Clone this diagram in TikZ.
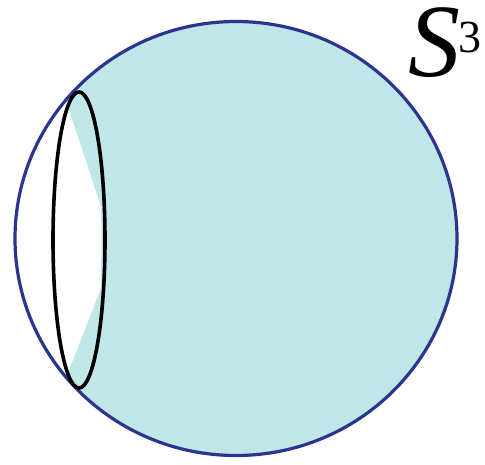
\documentclass[tikz,border=0pt]{standalone}
\usepackage{fontspec}
\setmainfont{Liberation Serif}
\definecolor{fillc}{HTML}{C0E6E8}
\definecolor{rimc}{HTML}{2B3590}
\begin{document}
\begin{tikzpicture}[x=1pt,y=-1pt,
  rim/.style={draw=rimc,line width=3.2pt},
  loopline/.style={draw=black,line width=3.6pt}]
\useasboundingbox (0,0) rectangle (485,464);
\coordinate (c) at (236,238.5);
\coordinate (e) at (79,240);
\fill[fillc] (c) ellipse [x radius=221, y radius=217];
\begin{scope}
  \clip (c) ellipse [x radius=221, y radius=217];
  \fill[white] (79,92) arc [start angle=270, end angle=90, x radius=26, y radius=148]
    -- (79,464) -- (0,464) -- (0,0) -- (79,0) -- cycle;
\end{scope}
\begin{scope}
  \clip (e) ellipse [x radius=26, y radius=148];
  \fill[white] (63,92) -- (101,207) -- (101,288) -- (62,388) -- (30,388) -- (30,92) -- cycle;
\end{scope}
\path[rim] (c) ellipse [x radius=221, y radius=217];
\path[loopline] (e) ellipse [x radius=26, y radius=148];
\node (lbl) [anchor=base west, inner sep=0pt] at (408,76)
  {\smash{{\fontsize{104}{104}\selectfont\itshape S}\kern-2pt{\fontsize{46}{46}\selectfont\raisebox{24pt}{3}}}};
\end{tikzpicture}
\end{document}
